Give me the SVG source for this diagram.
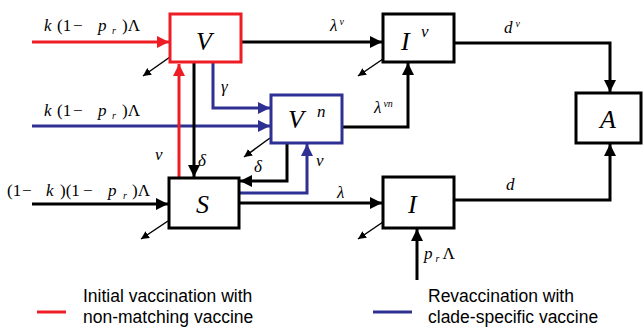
<svg xmlns="http://www.w3.org/2000/svg" width="644" height="327" viewBox="0 0 644 327">
<defs>
<style>
.box{fill:#fff;stroke-width:3}
.k{stroke:#000}
.r{stroke:#ee1c25}
.b{stroke:#2e3192}
.ln{fill:none;stroke-width:3}
.th{fill:none;stroke:#000;stroke-width:1.5}
.m{font-family:"Liberation Serif","Times New Roman",serif;font-style:italic;font-size:17px;fill:#000}
.up{font-family:"Liberation Serif","Times New Roman",serif;font-style:normal;font-size:17px;fill:#000}
.n{font-family:"Liberation Serif","Times New Roman",serif;font-style:italic;font-size:26px;fill:#000}
.sm{font-size:10px}
.lg{font-family:"Liberation Sans",Arial,sans-serif;font-size:17.5px;fill:#000}
</style>
<marker id="ak" markerUnits="userSpaceOnUse" markerWidth="12" markerHeight="12" viewBox="0 0 10 10" refX="10" refY="5" orient="auto"><path d="M0,0 L10,5 L0,10 z" fill="#000"/></marker>
<marker id="ar" markerUnits="userSpaceOnUse" markerWidth="12" markerHeight="12" viewBox="0 0 10 10" refX="10" refY="5" orient="auto"><path d="M0,0 L10,5 L0,10 z" fill="#ee1c25"/></marker>
<marker id="ab" markerUnits="userSpaceOnUse" markerWidth="12" markerHeight="12" viewBox="0 0 10 10" refX="10" refY="5" orient="auto"><path d="M0,0 L10,5 L0,10 z" fill="#2e3192"/></marker>
<marker id="at" markerUnits="userSpaceOnUse" markerWidth="8" markerHeight="8" viewBox="0 0 10 10" refX="10" refY="5" orient="auto"><path d="M0,0 L10,5 L0,10 z" fill="#000"/></marker>
</defs>
<rect width="644" height="327" fill="#fff"/>
<g id="connectors">
<path class="ln r" d="M32,42 H169" marker-end="url(#ar)"/>
<path class="ln b" d="M32,126 H270" marker-end="url(#ab)"/>
<path class="ln k" d="M32,204 H168" marker-end="url(#ak)"/>
<path class="ln r" d="M179,177 V64" marker-end="url(#ar)"/>
<path class="ln k" d="M194,63 V177" marker-end="url(#ak)"/>
<path class="ln b" d="M213,63 V108 H270" marker-end="url(#ab)"/>
<path class="ln k" d="M287,143 V181 H240" marker-end="url(#ak)"/>
<path class="ln b" d="M239,193 H307 V144" marker-end="url(#ab)"/>
<path class="ln k" d="M241,42 H382" marker-end="url(#ak)"/>
<path class="ln k" d="M342,127 H408 V63" marker-end="url(#ak)"/>
<path class="ln k" d="M239,203 H382" marker-end="url(#ak)"/>
<path class="ln k" d="M454,43 H610 V92" marker-end="url(#ak)"/>
<path class="ln k" d="M454,200 H610 V144" marker-end="url(#ak)"/>
<path class="ln k" d="M417,280 V229" marker-end="url(#ak)"/>
<path class="th" d="M170,57 L143,76" marker-end="url(#at)"/>
<path class="th" d="M270,138 L244,157" marker-end="url(#at)"/>
<path class="th" d="M168,221 L141,239" marker-end="url(#at)"/>
<path class="th" d="M383,59 L358,76" marker-end="url(#at)"/>
<path class="th" d="M383,222 L358,239" marker-end="url(#at)"/>
</g>
<g id="node-V"><rect class="box r" x="170" y="14" width="71" height="48"/><text class="n" x="196" y="50">V</text></g>
<g id="node-Iv"><rect class="box k" x="383" y="14" width="71" height="48"/><text class="n" x="401" y="50">I</text><text class="m" x="421" y="37">v</text></g>
<g id="node-Vn"><rect class="box b" x="271" y="95" width="71" height="48"/><text class="n" x="288" y="128">V</text><text class="m" x="317" y="117">n</text></g>
<g id="node-S"><rect class="box k" x="169" y="178" width="70" height="50"/><text class="n" x="196" y="213">S</text></g>
<g id="node-I"><rect class="box k" x="383" y="177" width="71" height="51"/><text class="n" x="408" y="213">I</text></g>
<g id="node-A"><rect class="box k" x="576" y="93" width="65" height="50"/><text class="n" x="600" y="128">A</text></g>
<g id="labels">
<text class="m" y="31"><tspan x="44">k</tspan><tspan class="up" x="57">(1</tspan><tspan class="up" x="73">−</tspan><tspan x="98">p</tspan><tspan class="sm" x="112" y="34">r</tspan><tspan class="up" x="122" y="31">)Λ</tspan></text>
<text class="m" y="116"><tspan x="44">k</tspan><tspan class="up" x="57">(1</tspan><tspan class="up" x="73">−</tspan><tspan x="98">p</tspan><tspan class="sm" x="112" y="119">r</tspan><tspan class="up" x="122" y="116">)Λ</tspan></text>
<text class="m" y="196"><tspan class="up" x="7">(1</tspan><tspan class="up" x="22">−</tspan><tspan x="46">k</tspan><tspan class="up" x="60">)(1</tspan><tspan class="up" x="83">−</tspan><tspan x="108">p</tspan><tspan class="sm" x="123" y="199">r</tspan><tspan class="up" x="132" y="196">)Λ</tspan></text>
<text class="m" x="330" y="31">λ<tspan class="sm" dx="2" y="25">v</tspan></text>
<text class="m" x="374" y="113">λ<tspan class="sm" dx="2" y="107">vn</tspan></text>
<text class="m" x="504" y="33">d<tspan class="sm" dx="3" y="27">v</tspan></text>
<text class="m" x="506" y="190">d</text>
<text class="m" x="337" y="198">λ</text>
<text class="m" x="424" y="259">p<tspan class="sm" dx="3" y="262">r</tspan><tspan class="up" dx="3" y="259">Λ</tspan></text>
<text class="m" x="221" y="92">γ</text>
<text class="m" x="198" y="166">δ</text>
<text class="m" x="155" y="160">ν</text>
<text class="m" x="254" y="172">δ</text>
<text class="m" x="316" y="166">ν</text>
</g>
<g id="legend">
<path d="M37,312 H66" stroke="#ee1c25" stroke-width="3"/>
<text class="lg" x="83" y="302">Initial vaccination with</text>
<text class="lg" x="83" y="323">non-matching vaccine</text>
<path d="M373,312 H412" stroke="#2e3192" stroke-width="3"/>
<text class="lg" x="428" y="302">Revaccination with</text>
<text class="lg" x="428" y="323">clade-specific vaccine</text>
</g>
</svg>
